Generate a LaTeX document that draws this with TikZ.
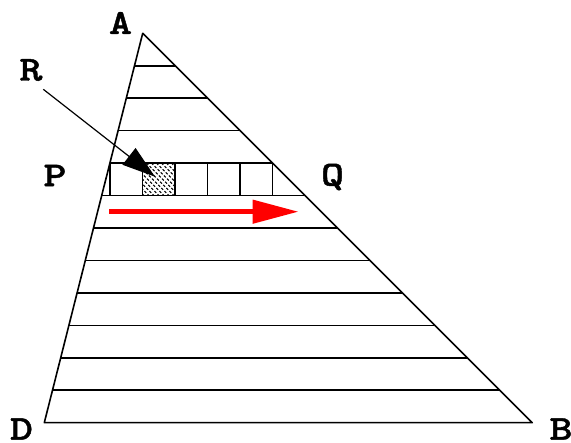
\documentclass[tikz,border=0pt]{standalone}
\usepackage{fontspec}
\newfontfamily\labelfont{Latin Modern Mono Light}[FakeStretch=1.25,FakeBold=1.2]
\usepackage{tikz}
\usetikzlibrary{arrows.meta,calc}
\definecolor{flowred}{HTML}{FF0000}
\tikzset{
  sideline/.style={line width=1.6pt,black,line join=round},
  stripline/.style={line width=1.6pt,black},
  cellline/.style={line width=1.6pt,black},
  texture/.style={line width=1pt,black,dash pattern=on 2.6pt off 1.8pt},
  pointlabel/.style={font=\labelfont\bfseries\fontsize{35}{35}\selectfont,inner sep=0pt},
  pointer/.style={-{Triangle[length=33pt,width=21pt]},line width=1.2pt,black},
  flow/.style={-{Triangle[length=46pt,width=23pt]},line width=4.7pt,flowred}
}

\begin{document}
\begin{tikzpicture}[x=1pt,y=-1pt]
  \useasboundingbox (0,0) rectangle (571,443);
  \coordinate (A) at (142.7,33.3);
  \coordinate (D) at (44.3,422.7);
  \coordinate (B) at (532.3,422.7);
  % strips
  \foreach \k in {1,...,11}{
    \draw[stripline] ($(A)!\k/12!(D)$) -- ($(A)!\k/12!(B)$);
  }
  % row of cells between strips 4 and 5
  \coordinate (rowL) at ($(A)!4/12!(D)$);
  \coordinate (rowR) at ($(A)!4/12!(B)$);
  \coordinate (cellNW) at ($(rowL)!1/5!(rowR)$);
  \begin{scope}
    \clip (cellNW) rectangle ++(32.5,32.4);
    \foreach \t in {-36,-31,...,36}{
      \draw[texture] ($(cellNW)+(\t,0)$) -- ++(36,36);
    }
  \end{scope}
  \foreach \j in {0,...,5}{
    \draw[cellline] ($(rowL)!\j/5!(rowR)$) -- ++(0,32.4);
  }
  \draw[sideline] (A) -- (D) -- (B) -- cycle;
  % labels
  \node[pointlabel] (labA) at (120.5,23) {A};
  \node[pointlabel] (labR) at (31,70) {R};
  \node[pointlabel] (labP) at (55,175.5) {P};
  \node[pointlabel] (labQ) at (332.5,177) {Q};
  \node[pointlabel] (labD) at (21.5,429) {D};
  \node[pointlabel] (labB) at (561,429) {B};
  % arrows
  \coordinate (Rtail) at (43.3,89.3);
  \coordinate (Rtip) at (155,176.7);
  \draw[pointer] (Rtail) -- (Rtip);
  \coordinate (flowstart) at (109.3,211.7);
  \coordinate (flowend) at (298.5,211.7);
  \draw[flow] (flowstart) -- (flowend);
\end{tikzpicture}
\end{document}
